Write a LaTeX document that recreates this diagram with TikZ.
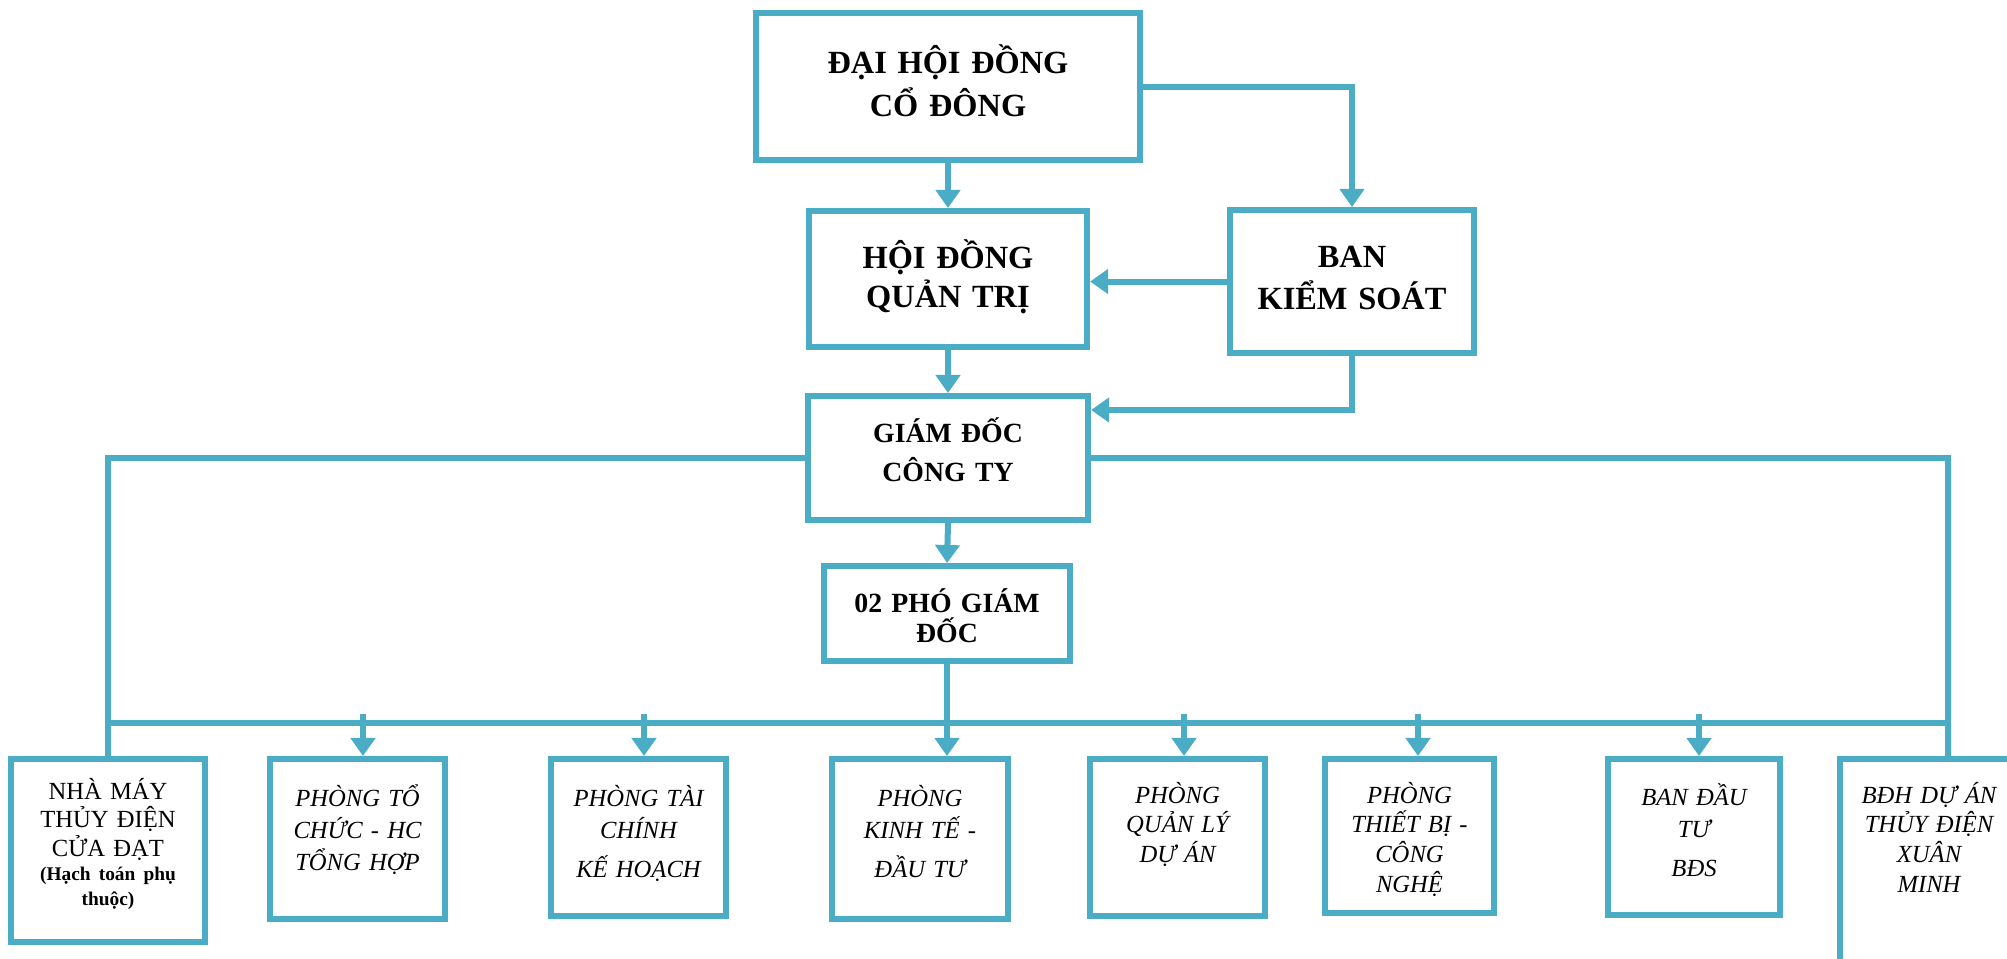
\documentclass[tikz,border=0pt]{standalone}
\usepackage{fontspec}
\setmainfont{Liberation Serif}
\usetikzlibrary{arrows.meta}
\definecolor{orgblue}{RGB}{75,172,198}

\begin{document}
\begin{tikzpicture}[x=0.01cm, y=-0.01cm,
    box/.style={draw=orgblue, line width=0.06cm, inner sep=0pt, align=center, anchor=north},
    topbox/.style={box, font=\fontsize{9.2}{12.4}\selectfont\bfseries},
    midbox/.style={box, font=\fontsize{7.9}{11.1}\selectfont\bfseries},
    deptbox/.style={box, font=\fontsize{7}{9.1}\selectfont\itshape},
    link/.style={draw=orgblue, line width=0.06cm},
    arr/.style={link, -{Triangle[width=0.24cm, length=0.18cm]}}]

    \useasboundingbox (0,0) rectangle (2007,958);
    \clip (0,0) rectangle (2007,958);

    % 上层的框
    \node[topbox, text width=3.84cm, text height=0.60cm, text depth=0.87cm] (dhdcd) at (948,10) {ĐẠI HỘI ĐỒNG\\CỔ ĐÔNG};
    \node[topbox, font=\fontsize{9.2}{11.1}\selectfont\bfseries, text width=2.78cm, text height=0.57cm, text depth=0.79cm] (hdqt) at (948,208) {HỘI ĐỒNG\\QUẢN TRỊ};
    \node[topbox, font=\fontsize{9.2}{12.2}\selectfont\bfseries, text width=2.44cm, text height=0.57cm, text depth=0.86cm] (bks) at (1352,207) {BAN\\KIỂM SOÁT};
    \node[midbox, text width=2.80cm, text height=0.46cm, text depth=0.78cm] (gdct) at (948,393) {GIÁM ĐỐC\\CÔNG TY};
    \node[midbox, font=\fontsize{7.9}{8.8}\selectfont\bfseries, text width=2.46cm, text height=0.46cm, text depth=0.49cm] (pgd) at (947,563) {02 PHÓ GIÁM\\ĐỐC};

    % 下层的框
    \node[box, font=\fontsize{7}{8.1}\selectfont, text width=1.94cm, text height=0.40cm, text depth=1.43cm] (nm) at (108,756)
        {NHÀ MÁY\\THỦY ĐIỆN\\CỬA ĐẠT\\[-1pt]{\fontsize{5.5}{7}\selectfont\bfseries (Hạch toán phụ}\\[-1pt]{\fontsize{5.5}{7}\selectfont\bfseries thuộc)}};
    \node[deptbox, text width=1.75cm, text height=0.47cm, text depth=1.13cm] (ptc) at (357.5,756) {PHÒNG TỔ\\CHỨC - HC\\TỔNG HỢP};
    \node[deptbox, text width=1.75cm, text height=0.47cm, text depth=1.10cm] (ptckh) at (638.5,756) {PHÒNG TÀI\\CHÍNH\\[2pt]KẾ HOẠCH};
    \node[deptbox, text width=1.76cm, text height=0.47cm, text depth=1.13cm] (pkt) at (920,756) {PHÒNG\\KINH TẾ -\\[2pt]ĐẦU TƯ};
    \node[deptbox, font=\fontsize{7}{8.5}\selectfont\itshape, text width=1.75cm, text height=0.44cm, text depth=1.13cm] (pqlda) at (1177.5,756) {PHÒNG\\QUẢN LÝ\\DỰ ÁN};
    \node[deptbox, font=\fontsize{7}{8.5}\selectfont\itshape, text width=1.69cm, text height=0.44cm, text depth=1.10cm] (ptbcn) at (1409.5,756) {PHÒNG\\THIẾT BỊ -\\CÔNG\\NGHỆ};
    \node[deptbox, text width=1.72cm, text height=0.46cm, text depth=1.10cm] (bdtbds) at (1694,756) {BAN ĐẦU\\TƯ\\[2pt]BĐS};
    \node[deptbox, font=\fontsize{7}{8.5}\selectfont\itshape, text width=1.78cm, text height=0.44cm, text depth=2.50cm] (bdh) at (1929,756) {BĐH DỰ ÁN\\THỦY ĐIỆN\\XUÂN\\MINH};

    % 上层连线
    \draw[arr] (dhdcd.south) -- (hdqt.north);
    \draw[arr] (dhdcd.east) -| (bks.north);
    \draw[arr] (bks.west) -- (bks.west -| hdqt.east);
    \draw[arr] (hdqt.south) -- (gdct.north);
    \coordinate (bksturn) at (1352,410);
    \draw[arr] (bks.south) -- (bksturn) -- (bksturn -| gdct.east);
    \draw[arr] (gdct.south) -- (pgd.north);

    % 两侧和横线
    \coordinate (rightcorner) at (1948,458);
    \coordinate (busleft) at (108,723);
    \coordinate (busright) at (1948,723);
    \draw[link] (gdct.west) -| (nm.north);
    \draw[link] (gdct.east) -- (rightcorner) -- (rightcorner |- bdh.north);
    \draw[link] (busleft) -- (busright);

    % 各部门的箭头
    \draw[arr] (pgd.south) -- (pgd.south |- pkt.north);
    \foreach \n/\x in {ptc/363, ptckh/644, pqlda/1184, ptbcn/1418, bdtbds/1699} {
        \coordinate (s\n) at (\x,714);
        \draw[arr] (s\n) -- (s\n |- \n.north);
    }

\end{tikzpicture}
\end{document}
